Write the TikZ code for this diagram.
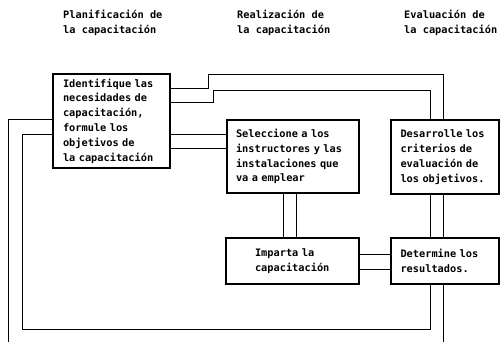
\documentclass[tikz,border=0pt]{standalone}
\usepackage{fontspec}
\setmonofont{DejaVu Sans Mono}
\usetikzlibrary{positioning, calc}

\begin{document}
\begin{tikzpicture}[
      x=1pt, y=-1pt,
      font=\ttfamily\bfseries\fontsize{10.3}{14.8}\selectfont,
      box/.style={rectangle, draw, line width=1.2pt, align=left, inner ysep=0pt},
      head/.style={align=left, inner sep=0pt, anchor=west},
      link/.style={line width=1pt}
    ]
    \useasboundingbox (0,0) rectangle (500,342);

    \node[head] (hplan) at (63,23) {Planificación de\\la capacitación};
    \node[head] (hreal) at (237,23) {Realización de\\la capacitación};
    \node[head] (heval) at (404,23) {Evaluación de\\la capacitación};

    \node[box, text width=97pt, inner xsep=10pt, minimum height=94pt] (ident) at (111.5,121)
      {Identifique las\\necesidades de\\capacitación,\\formule los\\objetivos de\\la capacitación};
    \node[box, text width=114pt, inner xsep=9pt, minimum height=73pt] (selec) at (293,156.5)
      {Seleccione a los\\instructores y las\\instalaciones que\\va a emplear};
    \node[box, text width=89pt, inner xsep=9.5pt, minimum height=74pt] (desar) at (445,157)
      {Desarrolle los\\criterios de\\evaluación de\\los objetivos.};
    \node[box, text width=75pt, inner xsep=29pt, minimum height=46pt] (impar) at (292.5,261)
      {Imparta la\\capacitación};
    \node[box, text width=89pt, inner xsep=9.5pt, minimum height=46pt] (deter) at (445,261)
      {Determine los\\resultados.};

    \coordinate (cutL) at (8,342);
    \coordinate (cutR) at (443,342);

    % lazos superiores
    \draw[link] ([yshift=32pt]ident.east) -| (208,75) -| ([xshift=-2pt]desar.north);
    \draw[link] ([yshift=18pt]ident.east) -| (213,91) -| ([xshift=-15pt]desar.north);

    % lineas dobles entre cajas
    \draw[link] ([yshift=-13pt]ident.east) -- ([yshift=-13pt]ident.east -| selec.west);
    \draw[link] ([yshift=-27pt]ident.east) -- ([yshift=-27pt]ident.east -| selec.west);
    \draw[link] ([xshift=-10pt]selec.south) -- ([xshift=-10pt]selec.south |- impar.north);
    \draw[link] ([xshift=3pt]selec.south) -- ([xshift=3pt]selec.south |- impar.north);
    \draw[link] ([yshift=7pt]impar.east) -- ([yshift=7pt]impar.east -| deter.west);
    \draw[link] ([yshift=-8pt]impar.east) -- ([yshift=-8pt]impar.east -| deter.west);
    \draw[link] ([xshift=-15pt]desar.south) -- ([xshift=-15pt]deter.north);
    \draw[link] ([xshift=-2pt]desar.south) -- ([xshift=-2pt]deter.north);

    % lazos inferiores
    \draw[link] ([xshift=-15pt]deter.south) |- (22,329) |- ([yshift=-13pt]ident.west);
    \draw[link] ([yshift=2pt]ident.west) -| (cutL);
    \draw[link] ([xshift=-2pt]deter.south) -- (cutR);
  \end{tikzpicture}
\end{document}
